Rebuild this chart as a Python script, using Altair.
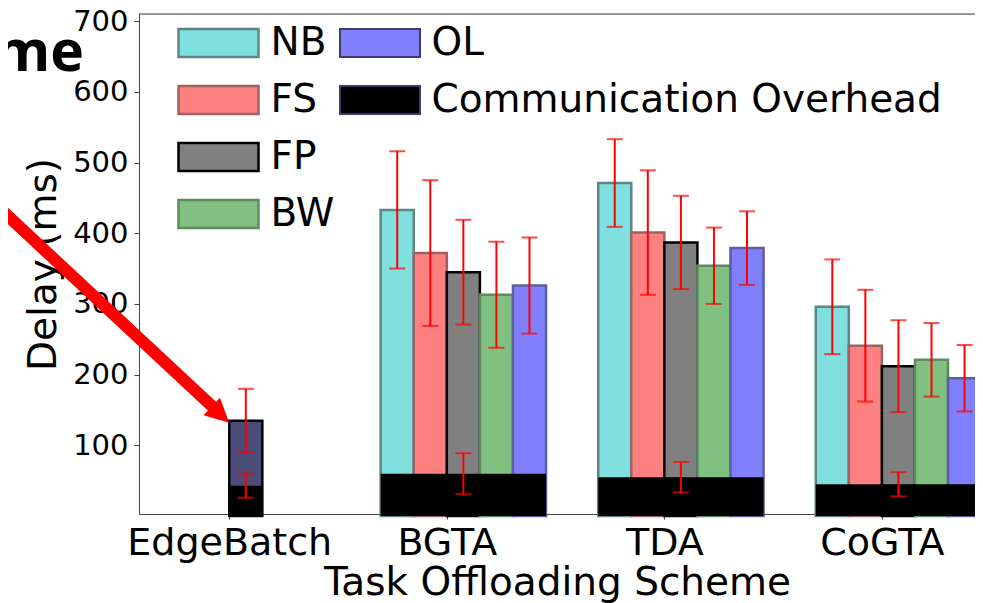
import altair as alt
import pandas as pd

# ---------------- data ----------------
schemes = ["EdgeBatch", "BGTA", "TDA", "CoGTA"]
series_names = ["NB", "FS", "FP", "BW", "OL"]

# delays (ms) for BGTA, TDA, CoGTA
nb_delay = [433, 471, 296]
fs_delay = [372, 401, 241]
fp_delay = [345, 387, 212]
bw_delay = [313, 354, 221]
ol_delay = [326, 379, 195]
nb_err = [83, 62, 67]
fs_err = [103, 88, 79]
fp_err = [74, 66, 65]
bw_err = [75, 54, 52]
ol_err = [68, 52, 47]

edgebatch_delay = 135
edgebatch_err = 45

# communication overhead for EdgeBatch, BGTA, TDA, CoGTA
overhead = [43, 60, 55, 45]
overhead_err = [17, 29, 21.5, 17]

legend_col1 = ["NB", "FS", "FP", "BW"]
legend_col2 = ["OL", "Communication Overhead"]
title_fragment = "me"

fill_colors = ["#80dfdf", "#ff8080", "#808080", "#80c080", "#8080ff", "#4c4c78"]
stroke_colors = ["#5e8585", "#9a6464", "#000000", "#5f8a5f", "#5e5e9e", "#000000"]

bar_w = 0.152
x_domain = [-0.415, 3.428]
y_domain = [3, 710]

# annotation arrow (data coordinates)
arrow_tail = (-1.1, 448)
arrow_shaft_end = (-0.06, 150)
arrow_tip = (0.0, 132)

# ---------------- tables ----------------
delays = [nb_delay, fs_delay, fp_delay, bw_delay, ol_delay]
errs = [nb_err, fs_err, fp_err, bw_err, ol_err]

bar_rows = [dict(series="EdgeBatch", x0=0.0, x1=bar_w, xc=bar_w / 2,
                 v=edgebatch_delay, lo=edgebatch_delay - edgebatch_err,
                 hi=edgebatch_delay + edgebatch_err)]
for gi in range(1, 4):
    for k, s in enumerate(series_names):
        v = delays[k][gi - 1]
        e = errs[k][gi - 1]
        x0 = gi + (k - 2) * bar_w
        bar_rows.append(dict(series=s, x0=x0, x1=x0 + bar_w, xc=x0 + bar_w / 2,
                             v=v, lo=v - e, hi=v + e))
bars_df = pd.DataFrame(bar_rows)

over_rows = []
for gi, sc in enumerate(schemes):
    n_left = 0 if gi == 0 else 2
    n_right = 1 if gi == 0 else 3
    over_rows.append(dict(kind="Communication Overhead", x0=gi - n_left * bar_w,
                          x1=gi + n_right * bar_w, xc=gi + bar_w / 2,
                          v=overhead[gi], lo=overhead[gi] - overhead_err[gi],
                          hi=overhead[gi] + overhead_err[gi]))
over_df = pd.DataFrame(over_rows)

err_df = pd.concat([bars_df[["xc", "lo", "hi"]], over_df[["xc", "lo", "hi"]]],
                   ignore_index=True)

FONT = "DejaVu Sans"
rect_path = "M-1,-0.35H1V0.35H-1Z"

xscale = alt.Scale(domain=x_domain, nice=False, zero=False)
yscale = alt.Scale(domain=y_domain, nice=False, zero=False)

label_expr = ("datum.value == 0 ? 'EdgeBatch' : datum.value == 1 ? 'BGTA' : "
              "datum.value == 2 ? 'TDA' : 'CoGTA'")

x_axis = alt.Axis(values=[0, 1, 2, 3], labelExpr=label_expr, title="Task Offloading Scheme",
                  labelFontSize=38, titleFontSize=39, labelFont=FONT, titleFont=FONT,
                  titleFontWeight="normal", labelColor="black", titleColor="black",
                  tickSize=5, labelPadding=5, titlePadding=1, grid=False,
                  domainColor="#444444", tickColor="#444444", labelFlush=False,
                  labelLimit=600, labelOverlap=False)
y_axis = alt.Axis(values=[100, 200, 300, 400, 500, 600, 700], title="Delay (ms)",
                  labelFontSize=29, titleFontSize=39, labelFont=FONT, titleFont=FONT,
                  titleFontWeight="normal", labelColor="black", titleColor="black",
                  tickSize=5, labelPadding=6, grid=False, domainColor="#444444",
                  tickColor="#444444", titleX=-84, titleY=250, titleBaseline="alphabetic",
                  titleAlign="center", titleAngle=270, labelFlush=False)

leg1 = alt.Legend(orient="none", legendX=38, legendY=0.5, title=None, values=legend_col1,
                  symbolType=rect_path, symbolSize=6400, symbolStrokeWidth=2.5,
                  symbolOpacity=1, labelFontSize=39, labelFont=FONT, labelColor="black",
                  labelOffset=10.5, rowPadding=0, clipHeight=57, padding=0,
                  labelLimit=1000, direction="vertical")
leg2 = alt.Legend(orient="none", legendX=200, legendY=0.5, title=None, values=legend_col2,
                  symbolType=rect_path, symbolSize=6400, symbolStrokeWidth=2,
                  symbolStrokeColor="#3c3c6a", symbolOpacity=1, labelFontSize=39,
                  labelFont=FONT, labelColor="black", labelOffset=10.5, rowPadding=0,
                  clipHeight=57, padding=0, labelLimit=1000, direction="vertical")

fill_scale = alt.Scale(domain=series_names + ["EdgeBatch"], range=fill_colors)
stroke_scale = alt.Scale(domain=series_names + ["EdgeBatch"], range=stroke_colors)

bars = alt.Chart(bars_df).mark_bar(strokeWidth=2.5).encode(
    x=alt.X("x0:Q", scale=xscale, axis=x_axis),
    x2="x1:Q",
    y=alt.Y("v:Q", scale=yscale, axis=y_axis),
    y2=alt.datum(0),
    fill=alt.Fill("series:N", scale=fill_scale, legend=leg1),
    stroke=alt.Stroke("series:N", scale=stroke_scale, legend=leg1),
)

over = alt.Chart(over_df).mark_bar(strokeWidth=0).encode(
    x="x0:Q", x2="x1:Q",
    y="v:Q", y2=alt.datum(0),
    color=alt.Color("kind:N", scale=alt.Scale(domain=legend_col2,
                                              range=["#8080ff", "#000000"]),
                    legend=leg2),
)

err_rule = alt.Chart(err_df).mark_rule(color="#ff0000", strokeWidth=2).encode(
    x="xc:Q", y="lo:Q", y2="hi:Q")
err_lo = alt.Chart(err_df).mark_tick(color="#ff0000", orient="horizontal", size=16,
                                     thickness=2).encode(x="xc:Q", y="lo:Q")
err_hi = alt.Chart(err_df).mark_tick(color="#ff0000", orient="horizontal", size=16,
                                     thickness=2).encode(x="xc:Q", y="hi:Q")

top_spine = alt.Chart(pd.DataFrame({"y": [y_domain[1]]})).mark_rule(
    color="#444444", strokeWidth=1.2).encode(y="y:Q")

arrow_df = pd.DataFrame({"xa": [arrow_tail[0]], "ya": [arrow_tail[1]],
                         "xb": [arrow_shaft_end[0]], "yb": [arrow_shaft_end[1]]})
shaft = alt.Chart(arrow_df).mark_rule(color="#ff0000", strokeWidth=12,
                                      strokeCap="butt").encode(
    x="xa:Q", y="ya:Q", x2="xb:Q", y2="yb:Q")
head = alt.Chart(pd.DataFrame({"x": [arrow_tip[0]], "y": [arrow_tip[1]]})).mark_point(
    shape="M0,0L-2,-1L-2,1Z", filled=True, size=576, angle=43, color="#ff0000",
    opacity=1).encode(x="x:Q", y="y:Q")

title_txt = alt.Chart(pd.DataFrame({"t": [title_fragment]})).mark_text(
    font="Open Sans", fontWeight="bold", fontSize=57, align="right",
    baseline="alphabetic", color="black").encode(
    text="t:N", x=alt.value(-55), y=alt.value(57))

chart = alt.layer(bars, over, err_rule, err_lo, err_hi, top_spine, shaft, head,
                  title_txt).properties(
    width=836, height=500,
    autosize=alt.AutoSizeParams(type="none"),
    padding={"left": 131, "top": 6, "right": 0, "bottom": 89},
).configure_view(stroke=None).configure(background="white")

chart.save("out.html", embed_options={"renderer": "svg", "actions": False})
